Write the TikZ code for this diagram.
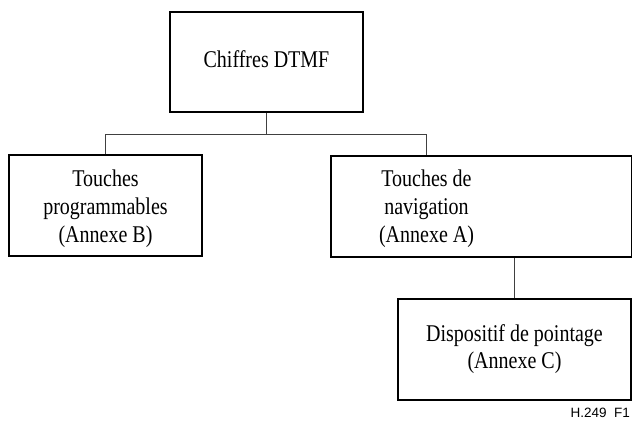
\documentclass[tikz,border=0pt]{standalone}
\usepackage{fontspec}
\setmainfont{Liberation Serif}
\setsansfont{Liberation Sans}
\usetikzlibrary{positioning}
\newcommand{\tallbox}[1]{\scalebox{1}[1.2]{\begin{tabular}{@{}c@{}}#1\end{tabular}}}
\begin{document}
\begin{tikzpicture}[x=1pt,y=-1pt,
    box/.style={draw, line width=1.8pt, inner sep=0pt, font=\fontsize{20}{23}\selectfont},
    link/.style={draw=black!75, line width=0.9pt}]
  \useasboundingbox (0,0) rectangle (632,421);
  % boites
  \node[box, minimum width=193, minimum height=100] (top) at (266.5,62) {\tallbox{Chiffres DTMF}};
  \node[box, minimum width=193, minimum height=101] (prog) at (105.5,205.5) {};
  \node[inner sep=0pt, font=\fontsize{20}{23}\selectfont] (progtxt) at (105.5,209)
       {\tallbox{Touches\\programmables\\(Annexe B)}};
  \node[box, minimum width=301, minimum height=101, anchor=north west] (nav) at (330,155) {};
  \node[inner sep=0pt, font=\fontsize{20}{23}\selectfont] (navtxt) at (426.5,209)
       {\tallbox{Touches de\\navigation\\(Annexe A)}};
  \node[box, minimum width=233, minimum height=101] (point) at (514.5,349.5)
       {\raisebox{3pt}{\tallbox{Dispositif de pointage\\(Annexe C)}}};
  % liaisons
  \draw[link] (top.south) -- ++(0,22) coordinate (split);
  \draw[link] (prog.north) |- (split) -| (navtxt |- nav.north);
  \draw[link] (point.north) -- (point.north |- nav.south);
  \node[anchor=base east, inner sep=0pt, font=\sffamily\fontsize{13.5}{16}\selectfont] (ref) at (630,417) {H.249\ \ F1};
\end{tikzpicture}
\end{document}
